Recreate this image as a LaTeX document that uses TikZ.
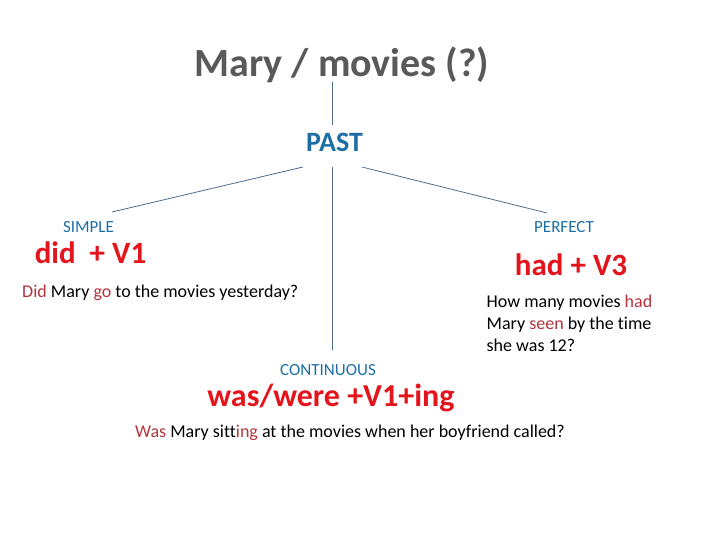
\documentclass[tikz,border=0pt]{standalone}
\usepackage{fontspec}
\setmainfont{Carlito}[Ligatures=CommonOff]
\definecolor{titlegrey}{HTML}{595959}
\definecolor{tenseblue}{HTML}{1C6EA4}
\definecolor{formred}{HTML}{E3141B}
\definecolor{wordred}{HTML}{B3353D}
\definecolor{branch}{HTML}{4F6D8A}
\begin{document}
\begin{tikzpicture}[x=1pt,y=-1pt,
        tense/.style={text=tenseblue, anchor=base, inner sep=0pt, font=\fontsize{17}{20}\selectfont},
        form/.style={text=formred, anchor=base, inner sep=0pt, font=\fontsize{31}{36}\selectfont\bfseries},
        sent/.style={anchor=base west, inner sep=0pt, font=\fontsize{18}{22}\selectfont},
        branchline/.style={draw=branch, line width=0.8pt}]
            \useasboundingbox (0,0) rectangle (720,540);
            % top of the tree
            \node[anchor=base, inner sep=0pt, text=titlegrey, font=\fontsize{40}{48}\selectfont\bfseries] (title) at (342,77) {Mary / movies (?)};
            \node[anchor=base, inner sep=0pt, text=tenseblue, font=\fontsize{28}{34}\selectfont\bfseries] (past) at (334.5,152) {PAST};
            \coordinate (titlefoot) at (332,82);
            \coordinate (pasttop) at (332,125);
            \coordinate (pastleft) at (303,167);
            \coordinate (pastmid) at (332,167);
            \coordinate (pastright) at (362,167);
            \coordinate (simpletip) at (112,212);
            \coordinate (perfecttip) at (547,213);
            \coordinate (conttip) at (332,350);
            \draw[branchline] (titlefoot) -- (pasttop);
            \draw[branchline] (pastleft) -- (simpletip);
            \draw[branchline] (pastright) -- (perfecttip);
            \draw[branchline] (pastmid) -- (conttip);
            % simple
            \node[tense] (simple) at (88.5,233) {SIMPLE};
            \node[form] (simpleform) at (90.5,263) {did\ \ + V1};
            \node[sent] (simpleq) at (22,297) {\textcolor{wordred}{Did} Mary \textcolor{wordred}{go} to the movies yesterday?};
            % perfect
            \node[tense] (perfect) at (564,233) {PERFECT};
            \node[form] (perfectform) at (571,275) {had + V3};
            \node[sent, anchor=north west, align=left] (perfectq) at (486.5,294.5) {How many movies \textcolor{wordred}{had}\\Mary \textcolor{wordred}{seen} by the time\\she was 12?};
            % continuous
            \node[tense] (continuous) at (328,375) {CONTINUOUS};
            \node[form, font=\fontsize{32}{38}\selectfont\bfseries] (contform) at (331,406) {was/were +V1+ing};
            \node[sent, anchor=base] (contq) at (350,437) {\textcolor{wordred}{Was} Mary sitt\textcolor{wordred}{ing} at the movies when her boyfriend called?};
        \end{tikzpicture}
\end{document}
